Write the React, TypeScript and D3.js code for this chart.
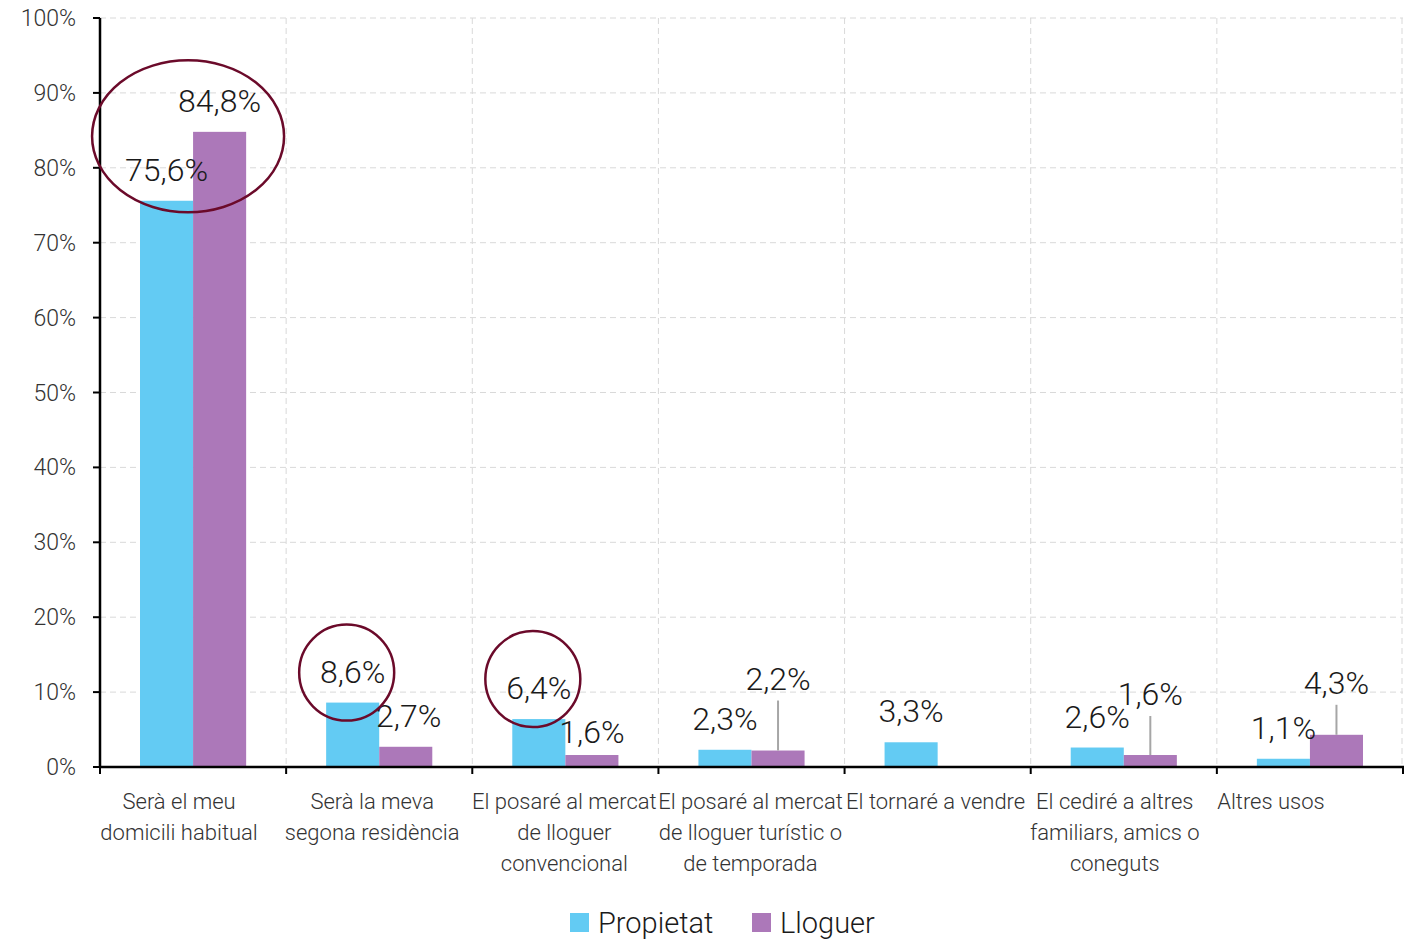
import React from "react";
import * as d3 from "d3";

const categories: string[][] = [
  ["Serà el meu", "domicili habitual"],
  ["Serà la meva", "segona residència"],
  ["El posaré al mercat", "de lloguer", "convencional"],
  ["El posaré al mercat", "de lloguer turístic o", "de temporada"],
  ["El tornaré a vendre"],
  ["El cediré a altres", "familiars, amics o", "coneguts"],
  ["Altres usos"],
];
const propietat: (number | null)[] = [75.6, 8.6, 6.4, 2.3, 3.3, 2.6, 1.1];
const lloguer: (number | null)[] = [84.8, 2.7, 1.6, 2.2, null, 1.6, 4.3];
const seriesNames = ["Propietat", "Lloguer"];
const yTicks = [0, 10, 20, 30, 40, 50, 60, 70, 80, 90, 100];
const highlighted = [0, 1, 2]; // categories circled

// styling adjustments (not data)
const labelAdjust: Record<string, [number, number, boolean]> = {
  "1-1": [3, 0, false],
  "1-2": [0, 8, false],
  "1-3": [0, -41, true],
  "1-5": [0, -30, true],
  "1-6": [0, -21, true],
};
const catLabelShift = [-14, -7, -1, -1, -2, -9, -39];
const circleDy = [0, -30, -40];

const COLORS = ["#63CBF3", "#AC78B9"];
const FONT = "Roboto, 'Liberation Sans', sans-serif";

export default function App() {
  const W = 1406, H = 940;
  const left = 100, right = 1403, top = 18, bottom = 767;
  const x0 = d3.scaleBand<number>().domain(d3.range(categories.length)).range([left, right]).padding(0);
  const bw = x0.bandwidth();
  const x1 = d3.scaleBand<number>().domain([0, 1]).range([40, bw - 40]).padding(0);
  const y = d3.scaleLinear().domain([0, 100]).range([bottom, top]);
  const fmt = (v: number) => v.toFixed(1).replace(".", ",") + "%";
  const data = [propietat, lloguer];

  return (
    <svg width={W} height={H} style={{ position: "absolute", left: 0, top: 0, fontFamily: FONT }}>
      <rect width={W} height={H} fill="#fff" />
      {yTicks.filter((t) => t > 0).map((t) => (
        <line key={"g" + t} x1={left} x2={right} y1={y(t)} y2={y(t)} stroke="#d9d9d9" strokeWidth={1} strokeDasharray="6,4" />
      ))}
      {d3.range(1, categories.length + 1).map((i) => {
        const xx = i < categories.length ? x0(i)! : right - 1;
        return <line key={"v" + i} x1={xx} x2={xx} y1={top} y2={bottom} stroke="#d9d9d9" strokeWidth={1} strokeDasharray="6,4" />;
      })}
      {data.map((s, si) =>
        s.map((v, ci) =>
          v == null ? null : (
            <rect key={`b${si}-${ci}`} x={x0(ci)! + x1(si)!} y={y(v)} width={x1.bandwidth()} height={bottom - y(v)} fill={COLORS[si]} />
          )
        )
      )}
      <line x1={left} x2={left} y1={top} y2={bottom} stroke="#000" strokeWidth={2.5} />
      <line x1={left - 1} x2={right + 1} y1={bottom} y2={bottom} stroke="#000" strokeWidth={2.5} />
      {yTicks.map((t) => (
        <g key={"yt" + t}>
          <line x1={left - 7} x2={left} y1={y(t)} y2={y(t)} stroke="#000" strokeWidth={2} />
          <text x={76} y={y(t)} dy="0.35em" textAnchor="end" fontSize={23} fontWeight={300} fill="#333">{t + "%"}</text>
        </g>
      ))}
      {d3.range(0, categories.length + 1).map((i) => {
        const xx = i < categories.length ? x0(i)! : right;
        return <line key={"xt" + i} x1={xx} x2={xx} y1={bottom} y2={bottom + 7} stroke="#000" strokeWidth={2} />;
      })}
      {categories.map((lines, ci) => {
        const cx = x0(ci)! + bw / 2 + catLabelShift[ci];
        return (
          <text key={"cl" + ci} x={cx} y={809} textAnchor="middle" fontSize={22} fontWeight={300} fill="#333">
            {lines.map((l, li) => (
              <tspan key={li} x={cx} dy={li === 0 ? 0 : 31}>{l}</tspan>
            ))}
          </text>
        );
      })}
      {data.map((s, si) =>
        s.map((v, ci) => {
          if (v == null) return null;
          const adj = labelAdjust[`${si}-${ci}`] || [0, 0, false];
          const cx = x0(ci)! + x1(si)! + x1.bandwidth() / 2;
          const base = y(v) - 20 + adj[1];
          return (
            <g key={`l${si}-${ci}`}>
              {adj[2] && <line x1={cx} x2={cx} y1={base + 11} y2={y(v)} stroke="#a6a6a6" strokeWidth={2} />}
              <text x={cx + adj[0]} y={base} textAnchor="middle" fontSize={32} fontWeight={300} fill="#1a1a1a">{fmt(v)}</text>
            </g>
          );
        })
      )}
      {highlighted.map((ci) => {
        const v = propietat[ci]!;
        const v2 = lloguer[ci]!;
        if (ci === 0) {
          const cx = x0(ci)! + bw / 2 - 5;
          const cy = (y(v) + y(v2)) / 2 - 30;
          return <ellipse key={"h" + ci} cx={cx} cy={cy} rx={96} ry={76} fill="none" stroke="#6B0A2A" strokeWidth={2.5} />;
        }
        const cx = x0(ci)! + x1(0)! + x1.bandwidth() / 2 - 6;
        const cy = y(v) + circleDy[ci];
        return <ellipse key={"h" + ci} cx={cx} cy={cy} rx={47.5} ry={48} fill="none" stroke="#6B0A2A" strokeWidth={2.5} />;
      })}
      <g>
        <rect x={570} y={913} width={19} height={19} fill={COLORS[0]} />
        <text x={598} y={933} fontSize={29} fontWeight={300} fill="#1a1a1a">{seriesNames[0]}</text>
        <rect x={752} y={913} width={19} height={19} fill={COLORS[1]} />
        <text x={780} y={933} fontSize={29} fontWeight={300} fill="#1a1a1a">{seriesNames[1]}</text>
      </g>
    </svg>
  );
}
